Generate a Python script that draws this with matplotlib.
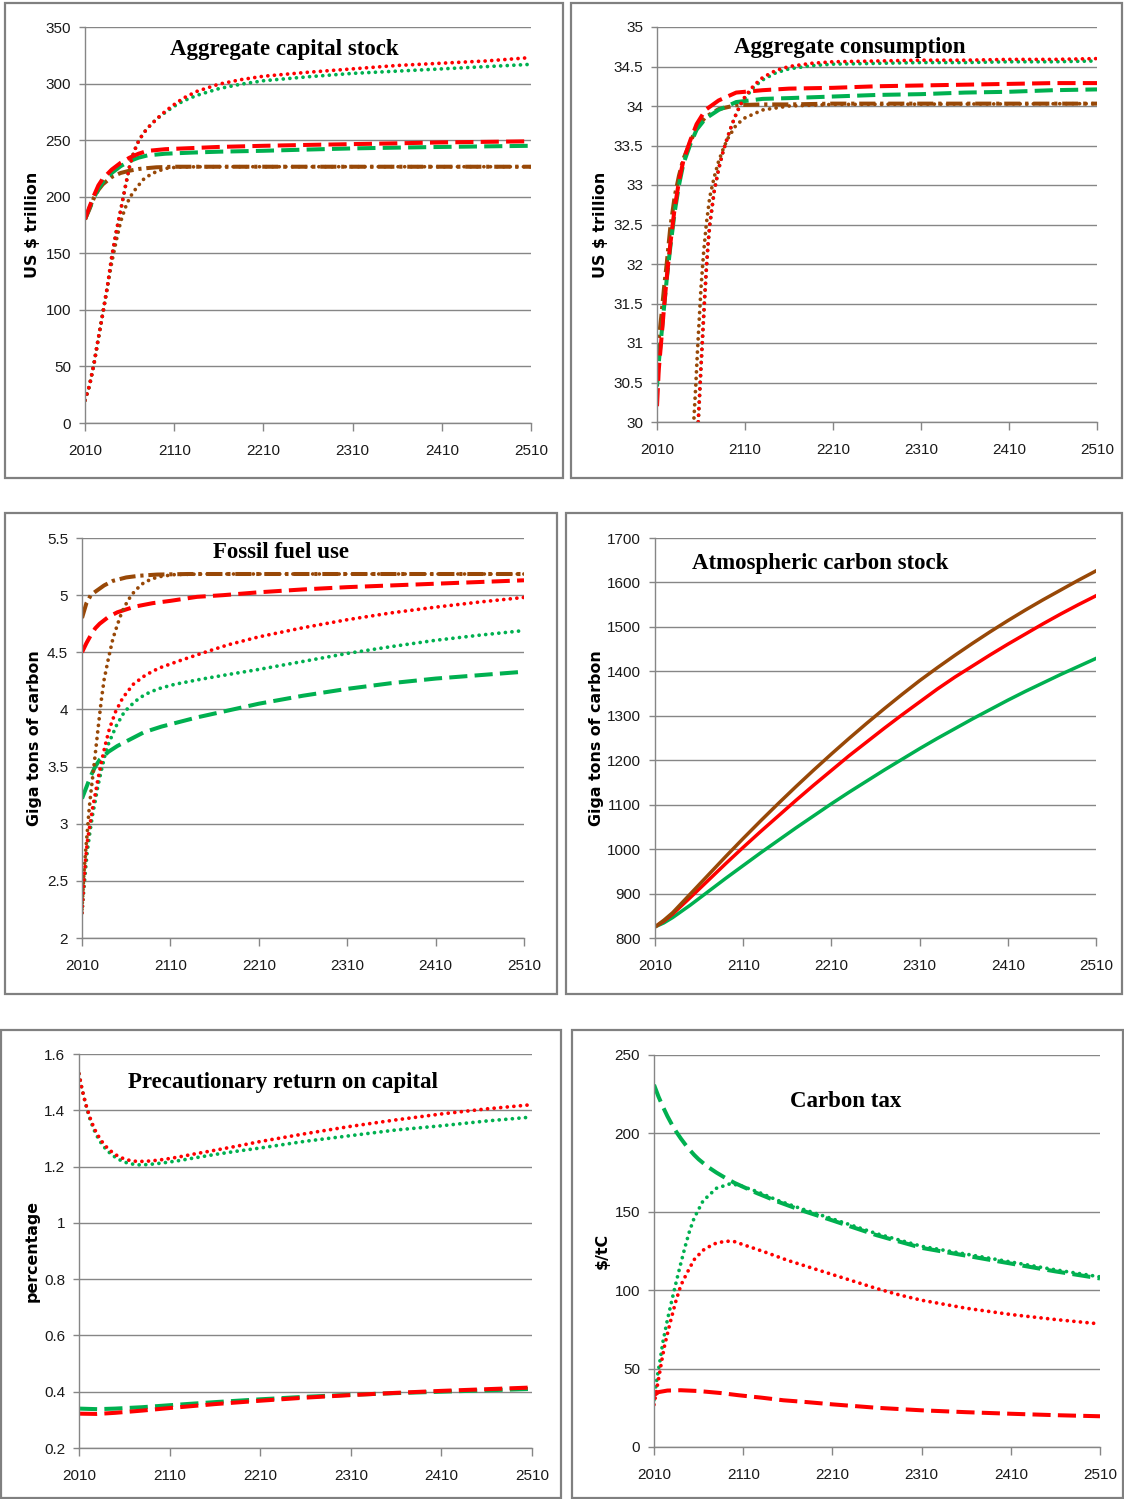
import numpy as np
import matplotlib
matplotlib.use("Agg")
import matplotlib.pyplot as plt
from matplotlib import font_manager
from matplotlib.patches import Rectangle
from matplotlib.ticker import FuncFormatter

# ---- Aggregate capital stock (US $ trillion) ----
cap_dot_red_yr = [2010, 2015, 2020, 2025, 2030, 2035, 2040, 2045, 2050, 2055, 2060, 2065, 2070, 2075, 2080,
                  2090, 2100, 2110, 2120, 2135, 2160, 2185, 2210, 2260, 2310, 2360, 2410, 2460, 2510]
cap_dot_red = [20, 33, 52, 75, 97, 120, 147, 169, 188, 208, 227, 240, 249, 255.5, 260.5,
               268.5, 275.5, 281.5, 287, 293, 299.5, 303.5, 306.5, 310, 313, 316, 318, 320, 323]
cap_dot_grn = [20, 33, 52, 75, 97, 120, 147, 169, 188, 208, 227, 240, 249, 255.5, 260.5,
               268.5, 274.5, 280, 284.5, 289.5, 295.5, 299.5, 302.5, 306, 309, 311, 313, 315, 317]
cap_dot_brn_yr = [2010, 2015, 2020, 2025, 2030, 2035, 2040, 2045, 2050, 2055, 2060, 2065, 2070, 2075, 2085,
                  2100, 2115, 2150, 2510]
cap_dot_brn = [20, 33, 52, 75, 97, 120, 142, 161, 178, 190, 199, 205, 210, 215, 220.5,
               225, 226.3, 226.5, 226.5]
cap_dash_yr = [2010, 2015, 2020, 2025, 2030, 2040, 2050, 2060, 2070, 2080, 2100, 2130, 2160, 2210,
               2260, 2310, 2360, 2410, 2460, 2510]
cap_dash_red = [180, 191, 201, 210, 216, 224, 230, 234.5, 238, 240.5, 242, 243, 244, 245,
                245.8, 246.5, 247.2, 248, 248.5, 249]
cap_dash_grn = [180, 190, 199, 207, 213, 221, 227, 231.5, 234.5, 236.5, 238, 239, 239.8, 240.6,
                241.7, 242.7, 243.4, 244, 244.5, 245]
cap_dd_brn_yr = [2010, 2015, 2020, 2025, 2030, 2040, 2050, 2060, 2070, 2080, 2090, 2110, 2510]
cap_dd_brn = [180, 189, 199, 206, 211, 217.5, 221, 223, 224.5, 225.3, 226, 226.5, 226.5]

# ---- Aggregate consumption (US $ trillion) ----
con_dash_yr = [2010, 2012, 2015, 2018, 2021, 2025, 2030, 2035, 2040, 2048, 2055, 2065, 2080, 2100,
               2130, 2160, 2210, 2260, 2310, 2360, 2410, 2460, 2510]
con_dash_red = [30.2, 30.66, 31.05, 31.45, 31.82, 32.24, 32.7, 33.05, 33.31, 33.57, 33.77, 33.95, 34.07, 34.17,
                34.2, 34.22, 34.23, 34.25, 34.26, 34.27, 34.28, 34.29, 34.29]
con_dash_grn = [30.45, 30.75, 31.1, 31.45, 31.8, 32.2, 32.65, 33.0, 33.27, 33.52, 33.7, 33.84, 33.95, 34.05,
                34.09, 34.1, 34.12, 34.14, 34.15, 34.17, 34.18, 34.2, 34.21]
con_dd_brn = [30.8, 31.05, 31.35, 31.7, 32.0, 32.45, 32.85, 33.12, 33.33, 33.55, 33.72, 33.86, 33.96, 34.01,
              34.02, 34.02, 34.03, 34.03, 34.03, 34.03, 34.03, 34.03, 34.03]
con_dot_yr = [2050, 2055, 2058, 2060, 2062, 2064, 2066, 2068, 2070, 2075, 2080, 2085, 2090, 2095, 2100,
              2105, 2110, 2120, 2130, 2145, 2160, 2185, 2210, 2260, 2310, 2360, 2410, 2460, 2510]
con_dot_red = [28.5, 29.6, 30.25, 30.7, 31.12, 31.54, 31.92, 32.25, 32.5, 32.92, 33.2, 33.42, 33.6, 33.76, 33.9,
               34.02, 34.12, 34.26, 34.36, 34.45, 34.5, 34.54, 34.56, 34.57, 34.58, 34.58, 34.59, 34.59, 34.6]
con_dot_grn = [28.5, 29.6, 30.25, 30.7, 31.12, 31.54, 31.92, 32.25, 32.5, 32.92, 33.2, 33.42, 33.6, 33.76, 33.9,
               34.02, 34.1, 34.24, 34.33, 34.42, 34.47, 34.51, 34.53, 34.54, 34.55, 34.55, 34.56, 34.56, 34.57]
con_dot_brn_yr = [2045, 2050, 2052, 2054, 2056, 2058, 2060, 2063, 2066, 2070, 2075, 2080, 2085, 2090, 2100,
                  2110, 2130, 2160, 2210, 2510]
con_dot_brn = [28.8, 29.7, 30.05, 30.45, 30.9, 31.3, 31.7, 32.15, 32.5, 32.85, 33.1, 33.3, 33.45, 33.58, 33.76,
               33.85, 33.95, 34.0, 34.02, 34.03]

# ---- Fossil fuel use (Giga tons of carbon) ----
ff_dd_brn_yr = [2010, 2015, 2020, 2025, 2035, 2045, 2060, 2075, 2095, 2130, 2510]
ff_dd_brn = [4.8, 4.93, 5.0, 5.03, 5.085, 5.125, 5.155, 5.17, 5.18, 5.185, 5.185]
ff_dash_red_yr = [2010, 2015, 2020, 2025, 2030, 2040, 2050, 2070, 2090, 2110, 2140, 2170, 2210, 2260,
                  2310, 2360, 2410, 2460, 2510]
ff_dash_red = [4.5, 4.58, 4.65, 4.71, 4.75, 4.81, 4.85, 4.9, 4.93, 4.95, 4.985, 5.0, 5.025, 5.05,
               5.07, 5.085, 5.1, 5.115, 5.13]
ff_dash_grn_yr = [2010, 2015, 2020, 2025, 2030, 2040, 2050, 2060, 2080, 2100, 2140, 2175, 2210, 2260,
                  2310, 2360, 2410, 2460, 2510]
ff_dash_grn = [3.22, 3.32, 3.42, 3.5, 3.56, 3.63, 3.68, 3.72, 3.8, 3.85, 3.93, 3.99, 4.05, 4.12,
               4.18, 4.23, 4.27, 4.3, 4.33]
ff_dot_brn_yr = [2010, 2012, 2014, 2016, 2018, 2020, 2023, 2026, 2029, 2032, 2035, 2040, 2045, 2050, 2055,
                 2062, 2070, 2080, 2090, 2100, 2115, 2150, 2510]
ff_dot_brn = [2.25, 2.55, 2.75, 2.93, 3.12, 3.27, 3.47, 3.68, 3.89, 4.09, 4.26, 4.45, 4.62, 4.74, 4.85,
              4.955, 5.04, 5.11, 5.145, 5.165, 5.18, 5.185, 5.185]
ff_dot_red_yr = [2010, 2012, 2014, 2016, 2019, 2022, 2025, 2028, 2032, 2036, 2041, 2048, 2056, 2068, 2080,
                 2090, 2100, 2120, 2145, 2175, 2210, 2260, 2310, 2360, 2410, 2460, 2510]
ff_dot_red = [2.22, 2.47, 2.68, 2.84, 2.99, 3.14, 3.26, 3.39, 3.54, 3.68, 3.83, 3.98, 4.1, 4.22, 4.29,
              4.335, 4.37, 4.425, 4.49, 4.565, 4.635, 4.715, 4.785, 4.845, 4.895, 4.94, 4.98]
ff_dot_grn_yr = [2010, 2012, 2014, 2016, 2019, 2022, 2025, 2028, 2032, 2036, 2040, 2049, 2058, 2070, 2081,
                 2096, 2115, 2145, 2175, 2210, 2260, 2310, 2360, 2410, 2460, 2510]
ff_dot_grn = [2.22, 2.42, 2.6, 2.76, 2.93, 3.08, 3.2, 3.33, 3.47, 3.6, 3.7, 3.86, 3.98, 4.07, 4.13,
              4.18, 4.22, 4.265, 4.305, 4.35, 4.42, 4.49, 4.55, 4.605, 4.65, 4.69]

# ---- Atmospheric carbon stock (Giga tons of carbon) ----
atm_yr = [2010, 2020, 2030, 2050, 2070, 2090, 2110, 2130, 2150, 2170, 2190, 2210, 2230, 2250, 2270,
          2290, 2310, 2330, 2350, 2370, 2390, 2410, 2430, 2450, 2470, 2490, 2510]
atm_brn = [825, 840, 857, 899, 941, 983, 1024, 1064, 1103, 1141, 1178, 1214, 1249, 1283, 1316,
           1348, 1379, 1408, 1436, 1463, 1489, 1514, 1538, 1561, 1583, 1605, 1626]
atm_red = [825, 838, 854, 891, 929, 967, 1004, 1040, 1075, 1110, 1144, 1177, 1210, 1241, 1272,
           1302, 1331, 1360, 1387, 1412, 1437, 1461, 1484, 1507, 1529, 1550, 1570]
atm_grn = [825, 834, 846, 874, 904, 934, 963, 992, 1020, 1048, 1075, 1102, 1128, 1153, 1178,
           1202, 1226, 1249, 1271, 1293, 1314, 1335, 1355, 1374, 1393, 1411, 1429]

# ---- Precautionary return on capital (percentage) ----
pr_dot_yr = [2010, 2013, 2016, 2019, 2022, 2025, 2028, 2032, 2036, 2041, 2047, 2053, 2060, 2067, 2075,
             2085, 2095, 2105, 2120, 2136, 2160, 2185, 2210, 2260, 2310, 2360, 2410, 2460, 2510]
pr_dot_red = [1.53, 1.48, 1.44, 1.405, 1.375, 1.35, 1.328, 1.305, 1.286, 1.267, 1.25, 1.237, 1.227, 1.221, 1.218,
              1.219, 1.222, 1.226, 1.234, 1.244, 1.258, 1.273, 1.289, 1.317, 1.343, 1.366, 1.387, 1.405, 1.42]
pr_dot_grn = [1.53, 1.48, 1.44, 1.402, 1.37, 1.343, 1.32, 1.296, 1.276, 1.257, 1.24, 1.227, 1.216, 1.21, 1.206,
              1.207, 1.21, 1.214, 1.221, 1.23, 1.243, 1.255, 1.266, 1.29, 1.31, 1.33, 1.345, 1.362, 1.376]
pr_dash_yr = [2010, 2030, 2050, 2080, 2110, 2160, 2210, 2260, 2310, 2360, 2410, 2460, 2510]
pr_dash_red = [0.322, 0.321, 0.325, 0.333, 0.342, 0.356, 0.368, 0.379, 0.388, 0.396, 0.403, 0.409, 0.415]
pr_dash_grn = [0.34, 0.338, 0.34, 0.345, 0.352, 0.363, 0.373, 0.382, 0.389, 0.395, 0.4, 0.405, 0.41]

# ---- Carbon tax ($/tC) ----
tax_dash_grn_yr = [2010, 2015, 2020, 2025, 2030, 2035, 2040, 2045, 2050, 2055, 2060, 2070, 2080, 2090, 2100,
                   2125, 2150, 2175, 2210, 2260, 2310, 2360, 2410, 2460, 2510]
tax_dash_grn = [231, 223.5, 217, 211, 205.7, 201, 196.8, 193, 189.5, 186.3, 183.5, 178.8, 175, 171.6, 168.5,
                162, 156.2, 151, 144.5, 135, 127, 122, 117, 112, 107.5]
tax_dot_grn_yr = [2010, 2013, 2017, 2020, 2025, 2030, 2035, 2040, 2045, 2050, 2055, 2065, 2080, 2095, 2105,
                  2125, 2150, 2175, 2210, 2260, 2310, 2360, 2410, 2460, 2510]
tax_dot_grn = [30, 42.5, 56, 67, 81, 93.5, 105.5, 117, 128, 138, 146, 157, 165, 167.8, 167,
               163, 157, 152, 145.5, 136, 128, 123, 118, 113, 108.5]
tax_dot_red_yr = [2010, 2015, 2019, 2022, 2028, 2034, 2040, 2047, 2055, 2065, 2077, 2090, 2100, 2118, 2136,
                  2160, 2185, 2210, 2235, 2260, 2285, 2310, 2360, 2410, 2460, 2510]
tax_dot_red = [27, 43, 56, 65, 79, 92, 103, 111, 119.5, 125.5, 129.5, 131.3, 131, 127.5, 124,
               119, 114.5, 110, 105.5, 101, 97, 93.6, 88.5, 84.5, 81.3, 78.5]
tax_dash_red_yr = [2010, 2015, 2025, 2040, 2060, 2085, 2105, 2130, 2155, 2180, 2210, 2260, 2310, 2360,
                   2410, 2460, 2510]
tax_dash_red = [33, 35, 36, 36.2, 35.7, 34.4, 33, 31.5, 29.8, 28.7, 27.2, 25, 23.4, 22.2,
                21.2, 20.3, 19.6]

# ---- styling ----
RED, GRN, BRN = "#FF0000", "#00B050", "#984807"
GRID = "#868686"
DOT = dict(ls=(0, (0.01, 1.75)), lw=2.7, dash_capstyle="round")
DASH = dict(ls=(0, (4.5, 1.8)), lw=2.9, dash_capstyle="butt")
DDOT = dict(ls=(0, (4.0, 1.2, 0.8, 1.2)), lw=2.9, dash_capstyle="butt")
SOLID = dict(ls="-", lw=2.5)

names = {f.name for f in font_manager.fontManager.ttflist}
if "Liberation Sans Narrow" in names:
    tick_font, tick_size = "Liberation Sans Narrow", 12.5
else:
    tick_font, tick_size = "Liberation Sans", 11
plt.rcParams["font.family"] = [tick_font, "DejaVu Sans"]

W, H = 1124, 1499
fig = plt.figure(figsize=(W / 100, H / 100), dpi=100)
fig.patch.set_facecolor("white")


def box(x0, y0, x1, y1):
    fig.add_artist(Rectangle((x0 / W, 1 - y1 / H), (x1 - x0) / W, (y1 - y0) / H,
                             transform=fig.transFigure, fill=False, ec="#808080", lw=1.6))


def make_axes(l, t, r, b, ylim, yticks, title, tcx, tbase, ylabel, lx):
    ax = fig.add_axes([l / W, 1 - b / H, (r - l) / W, (b - t) / H])
    ax.set_xlim(2010, 2510)
    ax.set_xticks(list(range(2010, 2511, 100)))
    ax.set_ylim(*ylim)
    ax.set_yticks(yticks)
    ax.yaxis.set_major_formatter(FuncFormatter(lambda v, p: f"{round(v, 1):g}"))
    ax.yaxis.grid(True, color=GRID, lw=1.0)
    ax.set_axisbelow(True)
    for s in ["top", "right"]:
        ax.spines[s].set_visible(False)
    for s in ["left", "bottom"]:
        ax.spines[s].set_color(GRID)
        ax.spines[s].set_linewidth(1.0)
    ax.tick_params(axis="x", direction="out", length=6, width=1, color=GRID, pad=9,
                   labelsize=tick_size, labelcolor="#1a1a1a")
    ax.tick_params(axis="y", direction="out", length=4, width=1, color=GRID, pad=6,
                   labelsize=tick_size, labelcolor="#1a1a1a")
    ax.text((tcx - l) / (r - l), (b - tbase) / (b - t), title, transform=ax.transAxes,
            ha="center", va="baseline", family="Liberation Serif", weight="bold", size=16.5)
    fig.text(lx / W, 1 - ((t + b) / 2) / H, ylabel, rotation=90, ha="center", va="center",
             family="DejaVu Sans", weight="bold", size=11.4)
    return ax


box(5, 3, 563, 478)
box(571, 3, 1122, 478)
box(5, 513, 557, 994)
box(566, 513, 1122, 994)
box(1, 1030, 561, 1498)
box(572, 1030, 1123, 1498)

# panel 1
ax = make_axes(85, 27, 531, 423, (0, 350), list(range(0, 351, 50)),
               "Aggregate capital stock", 284, 55, "US $ trillion", 33)
ax.plot(cap_dd_brn_yr, cap_dd_brn, color=BRN, **DDOT)
ax.plot(cap_dot_brn_yr, cap_dot_brn, color=BRN, **DOT)
ax.plot(cap_dash_yr, cap_dash_grn, color=GRN, **DASH)
ax.plot(cap_dash_yr, cap_dash_red, color=RED, **DASH)
ax.plot(cap_dot_red_yr, cap_dot_grn, color=GRN, **DOT)
ax.plot(cap_dot_red_yr, cap_dot_red, color=RED, **DOT)

# panel 2
ax = make_axes(657, 27, 1097, 422, (30, 35), [30 + 0.5 * i for i in range(11)],
               "Aggregate consumption", 850, 53, "US $ trillion", 601)
ax.plot(con_dash_yr, con_dd_brn, color=BRN, **DDOT)
ax.plot(con_dash_yr, con_dash_grn, color=GRN, **DASH)
ax.plot(con_dash_yr, con_dash_red, color=RED, **DASH)
ax.plot(con_dot_brn_yr, con_dot_brn, color=BRN, **DOT)
ax.plot(con_dot_yr, con_dot_grn, color=GRN, **DOT)
ax.plot(con_dot_yr, con_dot_red, color=RED, **DOT)

# panel 3
ax = make_axes(82, 538, 524, 938, (2, 5.5), [2 + 0.5 * i for i in range(8)],
               "Fossil fuel use", 281, 558, "Giga tons of carbon", 35)
ax.plot(ff_dd_brn_yr, ff_dd_brn, color=BRN, **DDOT)
ax.plot(ff_dash_red_yr, ff_dash_red, color=RED, **DASH)
ax.plot(ff_dash_grn_yr, ff_dash_grn, color=GRN, **DASH)
ax.plot(ff_dot_brn_yr, ff_dot_brn, color=BRN, **DOT)
ax.plot(ff_dot_grn_yr, ff_dot_grn, color=GRN, **DOT)
ax.plot(ff_dot_red_yr, ff_dot_red, color=RED, **DOT)

# panel 4
ax = make_axes(655, 538, 1096, 938, (800, 1700), list(range(800, 1701, 100)),
               "Atmospheric carbon stock", 820, 569, "Giga tons of carbon", 596)
ax.plot(atm_yr, atm_grn, color=GRN, **SOLID)
ax.plot(atm_yr, atm_red, color=RED, **SOLID)
ax.plot(atm_yr, atm_brn, color=BRN, **SOLID)

# panel 5
ax = make_axes(79, 1054, 532, 1448, (0.2, 1.6), [0.2 * i for i in range(1, 9)],
               "Precautionary return on capital", 283, 1088, "percentage", 32)
ax.plot(pr_dash_yr, pr_dash_grn, color=GRN, **DASH)
ax.plot(pr_dash_yr, pr_dash_red, color=RED, **DASH)
ax.plot(pr_dot_yr, pr_dot_grn, color=GRN, **DOT)
ax.plot(pr_dot_yr, pr_dot_red, color=RED, **DOT)

# panel 6
ax = make_axes(654, 1055, 1100, 1447, (0, 250), list(range(0, 251, 50)),
               "Carbon tax", 846, 1107, "$/tC", 602)
ax.plot(tax_dash_grn_yr, tax_dash_grn, color=GRN, **DASH)
ax.plot(tax_dot_grn_yr, tax_dot_grn, color=GRN, **DOT)
ax.plot(tax_dot_red_yr, tax_dot_red, color=RED, **DOT)
ax.plot(tax_dash_red_yr, tax_dash_red, color=RED, **DASH)

fig.savefig("out.png", dpi=100, facecolor="white")
